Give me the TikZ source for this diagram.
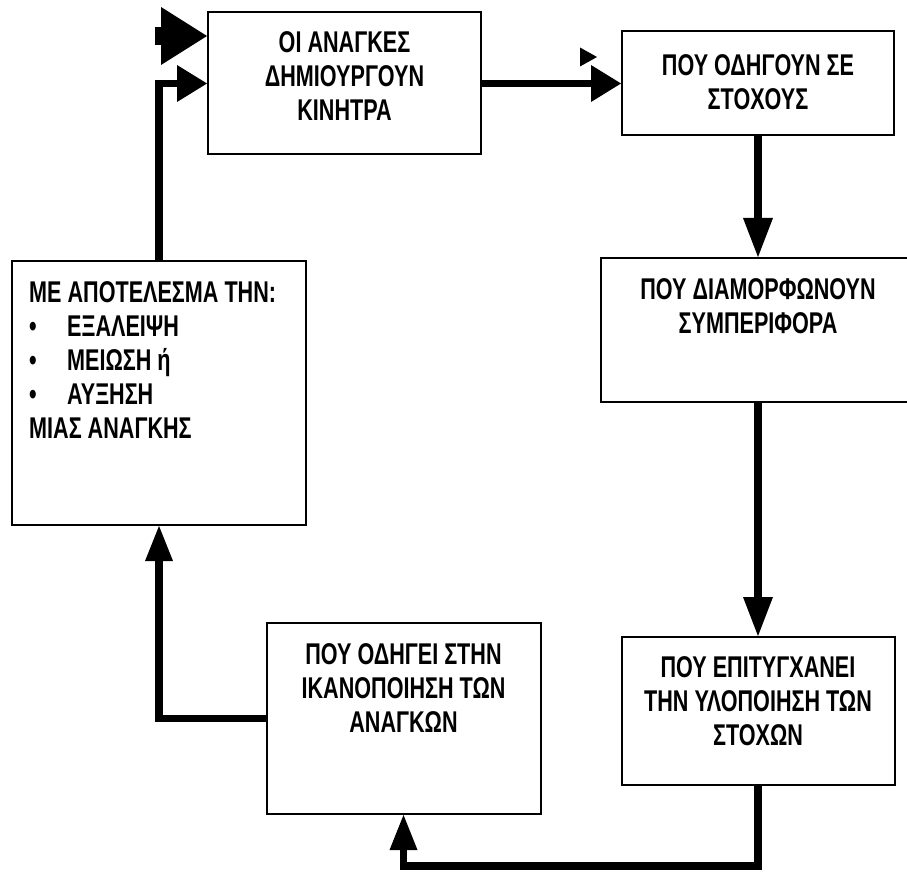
\documentclass[tikz,border=0pt]{standalone}
\usepackage{fontspec}
\setmainfont{Liberation Sans}[FakeStretch=0.72]
\usetikzlibrary{arrows.meta, positioning}

\begin{document}
\begin{tikzpicture}[x=1pt, y=-1pt]
  \tikzset{
    box/.style={
      draw,
      line width=2pt,
      inner sep=0pt,
      anchor=center
    },
    boxtext/.style={
      font=\fontsize{30}{34}\selectfont\bfseries,
      align=center,
      inner sep=0pt
    },
    listtext/.style={
      font=\fontsize{30}{34}\selectfont\bfseries,
      align=left,
      inner sep=0pt
    },
    flow/.style={
      line width=7.5pt
    },
    flowright/.style={
      flow,
      -{Triangle[length=30pt, width=37pt, line width=0pt]}
    },
    flowdown/.style={
      flow,
      -{Triangle[length=39pt, width=30pt, line width=0pt]}
    },
    flowup/.style={
      flow,
      -{Triangle[length=35pt, width=28pt, line width=0pt]}
    },
    bigflow/.style={
      line width=18pt,
      -{Triangle[length=46pt, width=58pt, line width=0pt]}
    }
  }

  % Page frame
  \useasboundingbox (0,0) rectangle (907,874);
  \clip (0,0) rectangle (907,874);

  % Draw the boxes
  \node[box, minimum width=273pt, minimum height=142pt] at (344.5, 83.5) (needs) {};
  \node[boxtext, below=20pt of needs.north] (needstext) {ΟΙ ΑΝΑΓΚΕΣ\\ΔΗΜΙΟΥΡΓΟΥΝ\\ΚΙΝΗΤΡΑ};

  \node[box, minimum width=272pt, minimum height=104pt] at (758, 83.5) (goals) {};
  \node[boxtext, below=24pt of goals.north] (goalstext) {ΠΟΥ ΟΔΗΓΟΥΝ ΣΕ\\ΣΤΟΧΟΥΣ};

  \node[box, minimum width=314pt, minimum height=144pt] at (758, 330) (behaviour) {};
  \node[boxtext, below=21pt of behaviour.north] (behaviourtext) {ΠΟΥ ΔΙΑΜΟΡΦΩΝΟΥΝ\\ΣΥΜΠΕΡΙΦΟΡΑ};

  \node[box, minimum width=273pt, minimum height=148pt] at (758, 711) (achieve) {};
  \node[boxtext, below=20pt of achieve.north] (achievetext) {ΠΟΥ ΕΠΙΤΥΓΧΑΝΕΙ\\ΤΗΝ ΥΛΟΠΟΙΗΣΗ ΤΩΝ\\ΣΤΟΧΩΝ};

  \node[box, minimum width=274pt, minimum height=191pt] at (403.5, 718.5) (satisfy) {};
  \node[boxtext, below=21pt of satisfy.north] (satisfytext) {ΠΟΥ ΟΔΗΓΕΙ ΣΤΗΝ\\ΙΚΑΝΟΠΟΙΗΣΗ ΤΩΝ\\ΑΝΑΓΚΩΝ};

  \node[box, minimum width=294pt, minimum height=264pt] at (159, 393) (result) {};
  \node[listtext, below right=21pt and 18pt of result.north west] (resulttext) {%
    ΜΕ ΑΠΟΤΕΛΕΣΜΑ ΤΗΝ:\\
    \makebox[38pt][l]{•}ΕΞΑΛΕΙΨΗ\\
    \makebox[38pt][l]{•}ΜΕΙΩΣΗ ή\\
    \makebox[38pt][l]{•}ΑΥΞΗΣΗ\\
    ΜΙΑΣ ΑΝΑΓΚΗΣ};

  % Draw the arrows
  \draw[flowright] (needs.east) -- (goals.west);
  \draw[flowdown] (goals.south) -- (behaviour.north);
  \draw[flowdown] (behaviour.south) -- (achieve.north);

  \coordinate (bend) at (403.5, 866);
  \draw[flowup] (achieve.south) |- (bend) -- (satisfy.south);
  \draw[flowup] (satisfy.west) -| (result.south);
  \draw[flowright] (result.north) |- (needs.west);

  % Stray arrow heads at the top
  \coordinate (stub) at (155, 36);
  \draw[bigflow] (stub) -- (needs.west |- stub);
  \coordinate (stray) at (580, 57);
  \coordinate (straytip) at (597, 57);
  \draw[line width=0.1pt, -{Triangle[length=17pt, width=19pt, line width=0pt]}] (stray) -- (straytip);

\end{tikzpicture}
\end{document}
